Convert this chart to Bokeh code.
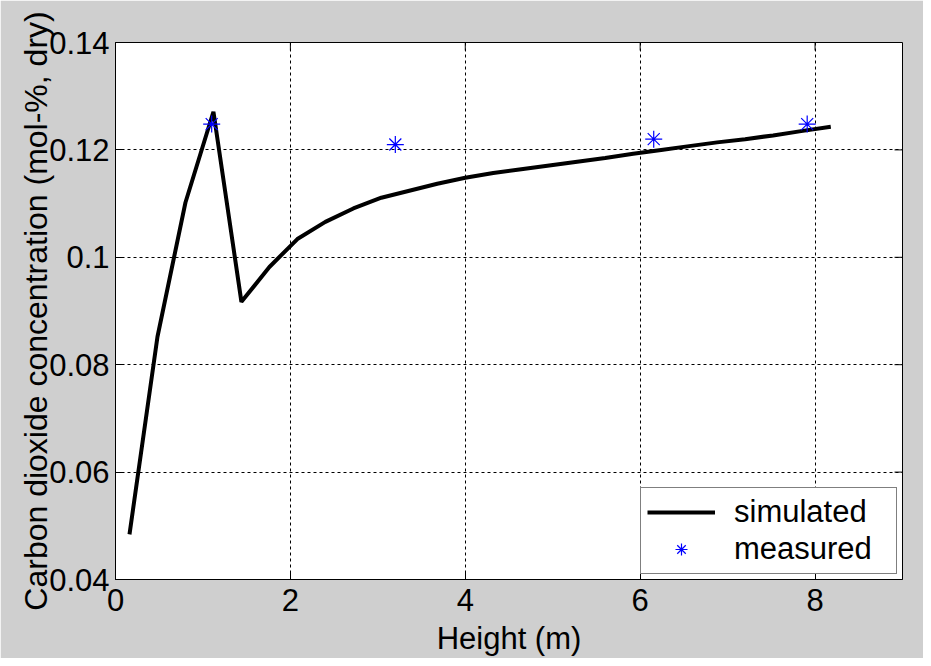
import math
from bokeh.plotting import figure
from bokeh.models import Range1d, FixedTicker, Legend, LegendItem
from bokeh.embed import file_html
from bokeh.resources import INLINE

# simulated profile
sim_height = [0.16, 0.48, 0.80, 1.12, 1.44, 1.76, 2.08, 2.40, 2.72, 3.04, 3.36, 3.68, 4.00,
              4.32, 4.64, 4.96, 5.28, 5.60, 5.92, 6.24, 6.56, 6.88, 7.20, 7.52, 7.84, 8.18]
sim_co2 = [0.0484, 0.0852, 0.1102, 0.1271, 0.0917, 0.0982, 0.1034, 0.1066, 0.1091, 0.1111,
           0.1124, 0.1137, 0.1148, 0.1157, 0.1164, 0.1171, 0.1178, 0.1185, 0.1193, 0.1200,
           0.1207, 0.1214, 0.1220, 0.1227, 0.1235, 0.1243]
# measured points
meas_height = [1.10, 3.20, 6.155, 7.91]
meas_co2 = [0.1248, 0.1210, 0.1220, 0.1248]

x_ticks = [0, 2, 4, 6, 8]
x_tick_labels = ["0", "2", "4", "6", "8"]
y_ticks = [0.04, 0.06, 0.08, 0.10, 0.12, 0.14]
y_tick_labels = ["0.04", "0.06", "0.08", "0.1", "0.12", "0.14"]
x_min, x_max = 0, 9
y_min, y_max = 0.04, 0.14

FONT = "Liberation Sans"
FS = "31px"
BG = "#cfcfcf"

p = figure(width=923, height=658, output_backend="svg", toolbar_location=None,
           x_range=Range1d(x_min, x_max), y_range=Range1d(y_min, y_max),
           min_border_left=115, min_border_right=21, min_border_top=42, min_border_bottom=69)
p.background_fill_color = "white"
p.border_fill_color = BG
p.outline_line_color = "black"
p.outline_line_width = 1

for ax, ticks, labels in ((p.xaxis[0], x_ticks, x_tick_labels), (p.yaxis[0], y_ticks, y_tick_labels)):
    ax.ticker = FixedTicker(ticks=ticks)
    ax.major_label_overrides = {t: l for t, l in zip(ticks, labels)}
    ax.major_label_text_font = FONT
    ax.major_label_text_font_size = FS
    ax.major_label_text_color = "black"
    ax.axis_label_text_font = FONT
    ax.axis_label_text_font_size = FS
    ax.axis_label_text_font_style = "normal"
    ax.axis_label_text_color = "black"
    ax.major_tick_in = 8
    ax.major_tick_out = 0
    ax.minor_tick_line_color = None
    ax.axis_line_color = "black"
    ax.major_tick_line_color = "black"

p.xaxis[0].axis_label = "Height (m)"
p.xaxis[0].major_label_standoff = 9
p.xaxis[0].axis_label_standoff = 7
p.yaxis[0].axis_label = "Carbon dioxide concentration (mol-%, dry)"
p.yaxis[0].axis_label_text_font_size = "32px"
p.yaxis[0].major_label_standoff = 6
p.yaxis[0].axis_label_standoff = -8

for g, ticks in ((p.xgrid[0], x_ticks), (p.ygrid[0], y_ticks)):
    g.ticker = FixedTicker(ticks=ticks)
    g.grid_line_color = "black"
    g.grid_line_dash = "3 3"
    g.grid_line_width = 1

# mirrored inward ticks on the top and right edges of the box
p.ray(x=x_ticks, y=[y_max] * len(x_ticks), length=8, length_units="screen",
      angle=-math.pi / 2, line_color="black", line_width=1)
p.ray(x=[x_max] * len(y_ticks), y=y_ticks, length=8, length_units="screen",
      angle=math.pi, line_color="black", line_width=1)

r_sim = p.line(sim_height, sim_co2, line_color="black", line_width=4)
r_meas = p.scatter(meas_height, meas_co2, marker="asterisk", size=17, line_color="#0000ff",
                   line_width=1.2)

legend = Legend(items=[LegendItem(label="simulated", renderers=[r_sim]),
                       LegendItem(label="measured", renderers=[r_meas])],
                location="bottom_right")
legend.label_text_font = FONT
legend.label_text_font_size = FS
legend.label_text_color = "black"
legend.border_line_color = "black"
legend.border_line_width = 1
legend.background_fill_color = "white"
legend.background_fill_alpha = 1
legend.glyph_width = 68
legend.glyph_height = 30
legend.label_standoff = 19
legend.label_width = 156
legend.padding = 6
legend.spacing = 1
legend.margin = 5
p.add_layout(legend)

open("out.html", "w").write(file_html(p, INLINE))
